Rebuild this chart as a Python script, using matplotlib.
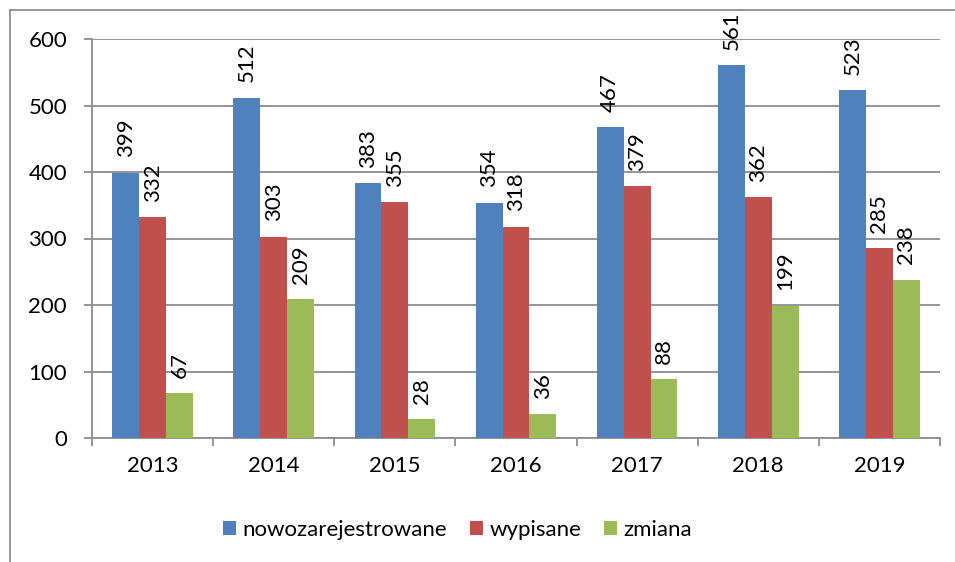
import matplotlib
matplotlib.use("Agg")
import matplotlib.pyplot as plt
from matplotlib.lines import Line2D
import numpy as np

years = ["2013", "2014", "2015", "2016", "2017", "2018", "2019"]
nowozarejestrowane = [399, 512, 383, 354, 467, 561, 523]
wypisane = [332, 303, 355, 318, 379, 362, 285]
zmiana = [67, 209, 28, 36, 88, 199, 238]

series = [
    ("nowozarejestrowane", nowozarejestrowane, "#4F81BD"),
    ("wypisane", wypisane, "#C0504D"),
    ("zmiana", zmiana, "#9BBB59"),
]

plt.rcParams["font.family"] = ["Lato", "DejaVu Sans"]
grey = "#8C8C8C"

fig = plt.figure(figsize=(9.55, 5.62), dpi=100)
ax = fig.add_axes([92 / 955, 1 - 438 / 562, 848 / 955, 399 / 562])

x = np.arange(len(years))
w = 0.222
for i, (name, vals, color) in enumerate(series):
    bars = ax.bar(x + (i - 1) * w, vals, w, color=color, label=name, zorder=3)
    for b, v in zip(bars, vals):
        ax.annotate(str(v), (b.get_x() + b.get_width() / 2, v),
                    xytext=(0, 11), textcoords="offset points",
                    rotation=90, ha="center", va="bottom", fontsize=16)

ax.set_xlim(-0.5, len(years) - 0.5)
ax.set_ylim(0, 600)
ax.set_yticks(range(0, 601, 100))
ax.yaxis.grid(True, color=grey, linewidth=1.3, zorder=0)
ax.set_xticks(x)
ax.set_xticklabels(years)
ax.set_xticks(np.arange(-0.5, len(years), 1), minor=True)
ax.tick_params(axis="x", which="major", length=0, pad=13, labelsize=16)
ax.tick_params(axis="x", which="minor", length=6, width=1.3, color=grey)
ax.tick_params(axis="y", length=6, width=1.3, color=grey, pad=12, labelsize=16)
for s in ["top", "right"]:
    ax.spines[s].set_visible(False)
for s in ["left", "bottom"]:
    ax.spines[s].set_color(grey)
    ax.spines[s].set_linewidth(1.3)

fig.legend(loc="center", bbox_to_anchor=(0.479, 1 - 530 / 562), ncol=3,
           frameon=False, fontsize=16, handlelength=0.6, handleheight=0.6,
           handletextpad=0.3, columnspacing=1.0)

# outer chart frame (only the left and top edges fall inside the picture)
fig.add_artist(Line2D([10 / 955, 10 / 955], [0, 1 - 10 / 562], color=grey, linewidth=1.3))
fig.add_artist(Line2D([10 / 955, 1], [1 - 10 / 562, 1 - 10 / 562], color=grey, linewidth=1.3))

fig.savefig("out.png", dpi=100)
